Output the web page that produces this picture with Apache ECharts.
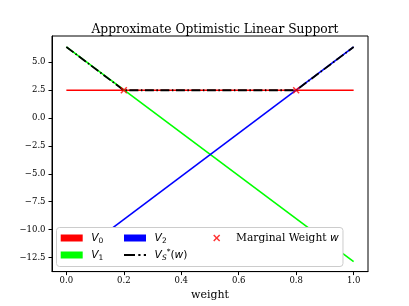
<!DOCTYPE html>
<html><head><meta charset="utf-8">
<script src="https://cdn.jsdelivr.net/npm/echarts@6/dist/echarts.min.js"></script>
<style>html,body{margin:0;padding:0;background:#fff}#c{width:409px;height:306px}</style>
</head><body><div id="c"></div>
<script>
const weightsLine = [0, 1];
const V0 = [2.47, 2.47];
const V1 = [6.34, -12.85];
const V2 = [-12.95, 6.34];
const starWeights = [0, 0.2, 0.8, 1];
const starValues = [6.34, 2.47, 2.47, 6.34];
const marginalWeights = [0.2, 0.8];
const marginalValues = [2.47, 2.47];
const xTicks = [0, 0.2, 0.4, 0.6, 0.8, 1.0];
const yTicks = [-12.5, -10, -7.5, -5, -2.5, 0, 2.5, 5];

const pairs = (xs, ys) => xs.map((x, i) => [x, ys[i]]);
const fmt = v => v.toFixed(1).replace('-', '\u2212');
const SERIF = 'DejaVu Serif';
const XPATH = 'path://M0,1.5 L1.5,0 L5,3.5 L8.5,0 L10,1.5 L6.5,5 L10,8.5 L8.5,10 L5,6.5 L1.5,10 L0,8.5 L3.5,5 Z';
const DASHDOT = 'path://M0,0 H10 V2 H0 Z M13,0 H15 V2 H13 Z M18,0 H20 V2 H18 Z';

const rich = {
  it: {fontFamily: 'DejaVu Sans', fontStyle: 'italic', fontSize: 10.7, lineHeight: 14, color: '#000'},
  sub: {fontFamily: 'DejaVu Sans', fontStyle: 'italic', fontSize: 7.5, lineHeight: 8, verticalAlign: 'bottom', color: '#000'},
  subn: {fontFamily: 'DejaVu Sans', fontSize: 7.5, lineHeight: 8, verticalAlign: 'bottom', color: '#000'},
  sup: {fontFamily: 'DejaVu Sans', fontSize: 7.5, lineHeight: 8, verticalAlign: 'top', color: '#000'},
  rm: {fontFamily: 'DejaVu Sans', fontSize: 10.7, lineHeight: 14, color: '#000'},
  serif: {fontFamily: SERIF, fontSize: 10.7, lineHeight: 14, color: '#000'}
};
const labels = {
  'V_0': '{it|V}{subn|0}',
  'V_1': '{it|V}{subn|1}',
  'V_2': '{it|V}{subn|2}',
  'V_S*': '{it|V}{sub|S}{sup|*}{rm|(}{it|w}{rm|)}',
  'MW': '{serif|Marginal Weight }{it|w}'
};
const legendBase = {
  orient: 'vertical', padding: 0, itemGap: 3, z: 10,
  formatter: n => labels[n],
  textStyle: {rich: rich, lineHeight: 14, padding: [0, 0, 0, 3.6]}
};

const chart = echarts.init(document.getElementById('c'));
chart.setOption({
  animation: false,
  title: {
    text: 'Approximate Optimistic Linear Support', left: 210, textAlign: 'center', top: 19,
    textStyle: {fontFamily: SERIF, fontSize: 12.3, fontWeight: 'normal', color: '#000'}
  },
  grid: {left: 52, right: 41, top: 36, bottom: 34, show: true, borderColor: '#000', borderWidth: 1},
  xAxis: {
    type: 'value', min: -0.05, max: 1.05,
    name: 'weight', nameLocation: 'middle', nameGap: 17,
    nameTextStyle: {fontFamily: SERIF, fontSize: 11, color: '#000'},
    axisLine: {show: true, onZero: false, lineStyle: {color: '#000', width: 1}},
    axisTick: {show: true, length: 3.5, customValues: xTicks, lineStyle: {color: '#000'}},
    axisLabel: {customValues: xTicks, formatter: fmt, fontFamily: SERIF, fontSize: 8.5, color: '#000', margin: 4.5},
    splitLine: {show: false}
  },
  yAxis: {
    type: 'value', min: -13.75, max: 7.32,
    axisLine: {show: true, onZero: false, lineStyle: {color: '#000', width: 1}},
    axisTick: {show: true, length: 3.5, customValues: yTicks, lineStyle: {color: '#000'}},
    axisLabel: {customValues: yTicks, formatter: fmt, fontFamily: SERIF, fontSize: 8.5, color: '#000', margin: 6.5},
    splitLine: {show: false}
  },
  legend: [
    Object.assign({}, legendBase, {left: 56.5, top: 227.5, itemWidth: 22, itemHeight: 7,
      padding: [3.5, 239.6, 4.5, 4.2],
      backgroundColor: '#ffffff', borderColor: '#cccccc', borderWidth: 1, borderRadius: 3,
      data: [{name: 'V_0', icon: 'rect'}, {name: 'V_1', icon: 'rect'}]}),
    Object.assign({}, legendBase, {left: 124, top: 231, itemWidth: 22, itemHeight: 7,
      data: [{name: 'V_2', icon: 'rect'}, {name: 'V_S*', icon: DASHDOT}]}),
    Object.assign({}, legendBase, {left: 213.2, top: 231, itemWidth: 7, itemHeight: 7,
      textStyle: {rich: rich, lineHeight: 14, padding: [0, 0, 0, 10.8]},
      data: [{name: 'MW', icon: XPATH}]})
  ],
  series: [
    {name: 'V_0', type: 'line', z: 2, data: pairs(weightsLine, V0), symbol: 'none', color: '#ff0000', lineStyle: {width: 1.6}},
    {name: 'V_1', type: 'line', z: 2, data: pairs(weightsLine, V1), symbol: 'none', color: '#00ff00', lineStyle: {width: 1.6}},
    {name: 'V_2', type: 'line', z: 2, data: pairs(weightsLine, V2), symbol: 'none', color: '#0000ff', lineStyle: {width: 1.6}},
    {name: 'V_S*', type: 'line', z: 2, data: pairs(starWeights, starValues), symbol: 'none', color: '#000000',
      lineStyle: {width: 1.8, type: [9, 2.5, 1.5, 2.5]}},
    {name: 'MW', type: 'scatter', z: 2.5, data: pairs(marginalWeights, marginalValues), symbol: XPATH, symbolSize: 7, color: '#ff0000'}
  ]
});
</script></body></html>
